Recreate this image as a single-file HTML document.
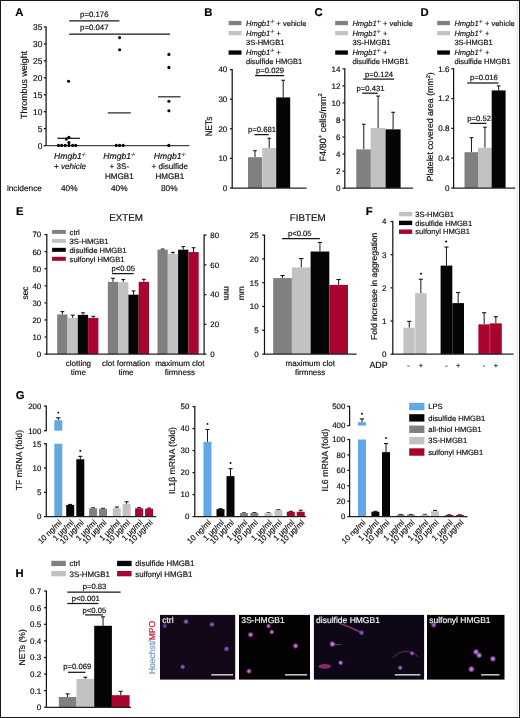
<!DOCTYPE html>
<html><head><meta charset="utf-8"><style>
html,body{margin:0;padding:0;background:#fff;}
body{width:520px;height:718px;overflow:hidden;}
svg{display:block;will-change:transform;}
text{font-family:"Liberation Sans", sans-serif;text-rendering:geometricPrecision;}
text[fill="#111"], text[fill="#000"]{stroke:#111;stroke-width:0.18px;}
text[fill="#f4f4f4"]{stroke:#f4f4f4;stroke-width:0.18px;}
</style></head><body>
<svg width="520" height="718" viewBox="0 0 520 718">
<defs><filter id="blur2" x="-50%" y="-50%" width="200%" height="200%"><feGaussianBlur stdDeviation="0.6"/></filter><filter id="blur" x="-50%" y="-50%" width="200%" height="200%"><feGaussianBlur stdDeviation="0.7"/></filter>
<radialGradient id="gD"><stop offset="0" stop-color="#a078c8"/><stop offset="0.55" stop-color="#7048a0" stop-opacity="0.8"/><stop offset="1" stop-color="#402060" stop-opacity="0"/></radialGradient>
<radialGradient id="gDB"><stop offset="0" stop-color="#6a58c0"/><stop offset="0.55" stop-color="#4a3a98" stop-opacity="0.8"/><stop offset="1" stop-color="#282060" stop-opacity="0"/></radialGradient>
<radialGradient id="gP"><stop offset="0" stop-color="#c27ad6"/><stop offset="0.55" stop-color="#9a44b0" stop-opacity="0.85"/><stop offset="1" stop-color="#5a2a80" stop-opacity="0"/></radialGradient>
<radialGradient id="gK"><stop offset="0" stop-color="#e090dc"/><stop offset="0.55" stop-color="#b44cb4" stop-opacity="0.85"/><stop offset="1" stop-color="#702a80" stop-opacity="0"/></radialGradient>
<radialGradient id="gB"><stop offset="0" stop-color="#8070e0"/><stop offset="0.55" stop-color="#5a48b8" stop-opacity="0.85"/><stop offset="1" stop-color="#302080" stop-opacity="0"/></radialGradient>
<radialGradient id="gL"><stop offset="0" stop-color="#d8a0ec"/><stop offset="0.55" stop-color="#b05ec8" stop-opacity="0.85"/><stop offset="1" stop-color="#603090" stop-opacity="0"/></radialGradient>
</defs>
<rect x="0" y="0" width="520" height="718" fill="#fff"/>
<rect x="513" y="0" width="5" height="718" fill="#f8f8f8"/>
<text x="15.30" y="15.60" font-size="11.3" text-anchor="start" fill="#000" font-weight="bold" font-style="normal" >A</text>
<line x1="46.10" y1="26.50" x2="46.10" y2="146.10" stroke="#161616" stroke-width="1.25"/>
<line x1="43.80" y1="145.60" x2="46.10" y2="145.60" stroke="#161616" stroke-width="1.25"/>
<text x="42.30" y="148.62" font-size="8.4" text-anchor="end" fill="#111" font-weight="normal" font-style="normal" >0</text>
<line x1="43.80" y1="128.66" x2="46.10" y2="128.66" stroke="#161616" stroke-width="1.25"/>
<text x="42.30" y="131.68" font-size="8.4" text-anchor="end" fill="#111" font-weight="normal" font-style="normal" >5</text>
<line x1="43.80" y1="111.71" x2="46.10" y2="111.71" stroke="#161616" stroke-width="1.25"/>
<text x="42.30" y="114.74" font-size="8.4" text-anchor="end" fill="#111" font-weight="normal" font-style="normal" >10</text>
<line x1="43.80" y1="94.77" x2="46.10" y2="94.77" stroke="#161616" stroke-width="1.25"/>
<text x="42.30" y="97.80" font-size="8.4" text-anchor="end" fill="#111" font-weight="normal" font-style="normal" >15</text>
<line x1="43.80" y1="77.83" x2="46.10" y2="77.83" stroke="#161616" stroke-width="1.25"/>
<text x="42.30" y="80.85" font-size="8.4" text-anchor="end" fill="#111" font-weight="normal" font-style="normal" >20</text>
<line x1="43.80" y1="60.89" x2="46.10" y2="60.89" stroke="#161616" stroke-width="1.25"/>
<text x="42.30" y="63.91" font-size="8.4" text-anchor="end" fill="#111" font-weight="normal" font-style="normal" >25</text>
<line x1="43.80" y1="43.94" x2="46.10" y2="43.94" stroke="#161616" stroke-width="1.25"/>
<text x="42.30" y="46.97" font-size="8.4" text-anchor="end" fill="#111" font-weight="normal" font-style="normal" >30</text>
<line x1="43.80" y1="27.00" x2="46.10" y2="27.00" stroke="#161616" stroke-width="1.25"/>
<text x="42.30" y="30.02" font-size="8.4" text-anchor="end" fill="#111" font-weight="normal" font-style="normal" >35</text>
<line x1="46.10" y1="145.60" x2="189.40" y2="145.60" stroke="#444" stroke-width="1.25"/>
<text transform="translate(23.40,85.00) rotate(-90)" x="0" y="3.20" font-size="8.9" text-anchor="middle" fill="#111">Thrombus weight</text>
<line x1="69.20" y1="20.90" x2="119.40" y2="20.90" stroke="#161616" stroke-width="1.25"/>
<text x="94.30" y="16.60" font-size="7.8" text-anchor="middle" fill="#111" font-weight="normal" font-style="normal" >p=0.176</text>
<line x1="69.20" y1="34.00" x2="170.10" y2="34.00" stroke="#161616" stroke-width="1.25"/>
<text x="94.30" y="29.80" font-size="7.8" text-anchor="middle" fill="#111" font-weight="normal" font-style="normal" >p=0.047</text>
<line x1="57.40" y1="138.30" x2="80.00" y2="138.30" stroke="#111" stroke-width="1.2"/>
<line x1="107.80" y1="112.90" x2="130.80" y2="112.90" stroke="#222" stroke-width="1.2"/>
<line x1="158.00" y1="96.80" x2="180.50" y2="96.80" stroke="#222" stroke-width="1.2"/>
<circle cx="68.60" cy="81.20" r="1.55" fill="#000"/>
<circle cx="68.90" cy="137.30" r="1.55" fill="#000"/>
<circle cx="66.30" cy="139.10" r="1.55" fill="#000"/>
<circle cx="68.90" cy="142.60" r="1.55" fill="#000"/>
<circle cx="58.50" cy="145.40" r="1.55" fill="#000"/>
<circle cx="61.70" cy="145.40" r="1.55" fill="#000"/>
<circle cx="65.20" cy="145.40" r="1.55" fill="#000"/>
<circle cx="68.90" cy="145.40" r="1.55" fill="#000"/>
<circle cx="72.60" cy="145.40" r="1.55" fill="#000"/>
<circle cx="75.70" cy="145.40" r="1.55" fill="#000"/>
<circle cx="119.60" cy="37.60" r="1.55" fill="#000"/>
<circle cx="119.60" cy="49.70" r="1.55" fill="#000"/>
<circle cx="116.30" cy="145.40" r="1.55" fill="#000"/>
<circle cx="119.60" cy="145.40" r="1.55" fill="#000"/>
<circle cx="123.10" cy="145.40" r="1.55" fill="#000"/>
<circle cx="168.90" cy="54.40" r="1.55" fill="#000"/>
<circle cx="168.90" cy="67.40" r="1.55" fill="#000"/>
<circle cx="168.90" cy="101.20" r="1.55" fill="#000"/>
<circle cx="168.90" cy="110.70" r="1.55" fill="#000"/>
<circle cx="168.80" cy="145.40" r="1.55" fill="#000"/>
<text x="70.00" y="158.8" font-size="8.6" fill="#111" text-anchor="middle"><tspan font-style="italic">Hmgb1</tspan><tspan font-size="4.4" dy="-3.3">-/-</tspan></text>
<text x="70.00" y="168.7" font-size="8.0" fill="#111" text-anchor="middle">+ <tspan font-style="italic">vehicle</tspan></text>
<text x="119.30" y="158.8" font-size="8.6" fill="#111" text-anchor="middle"><tspan font-style="italic">Hmgb1</tspan><tspan font-size="4.4" dy="-3.3">-/-</tspan></text>
<text x="119.30" y="168.70" font-size="8.1" text-anchor="middle" fill="#111" font-weight="normal" font-style="normal" >+ 3S-</text>
<text x="119.30" y="178.70" font-size="8.1" text-anchor="middle" fill="#111" font-weight="normal" font-style="normal" >HMGB1</text>
<text x="169.80" y="158.8" font-size="8.6" fill="#111" text-anchor="middle"><tspan font-style="italic">Hmgb1</tspan><tspan font-size="4.4" dy="-3.3">-/-</tspan></text>
<text x="169.80" y="168.70" font-size="8.1" text-anchor="middle" fill="#111" font-weight="normal" font-style="normal" >+ disulfide</text>
<text x="169.80" y="178.70" font-size="8.1" text-anchor="middle" fill="#111" font-weight="normal" font-style="normal" >HMGB1</text>
<text x="6.90" y="191.10" font-size="8.3" text-anchor="start" fill="#111" font-weight="normal" font-style="normal" >incidence</text>
<text x="69.30" y="191.10" font-size="8.3" text-anchor="middle" fill="#111" font-weight="normal" font-style="normal" >40%</text>
<text x="119.30" y="191.10" font-size="8.3" text-anchor="middle" fill="#111" font-weight="normal" font-style="normal" >40%</text>
<text x="169.30" y="191.10" font-size="8.3" text-anchor="middle" fill="#111" font-weight="normal" font-style="normal" >80%</text>
<text x="204.30" y="15.60" font-size="11.3" text-anchor="start" fill="#000" font-weight="bold" font-style="normal" >B</text>
<rect x="228.60" y="20.90" width="12.90" height="4.30" fill="#808080"/>
<text x="246.00" y="25.80" font-size="7.5" fill="#111"><tspan font-style="italic">Hmgb1</tspan><tspan font-size="4.50" dy="-3.00">-/-</tspan><tspan dy="3.00"> + vehicle</tspan></text>
<rect x="228.60" y="31.00" width="12.90" height="4.30" fill="#c2c2c2"/>
<text x="246.00" y="36.20" font-size="7.5" fill="#111"><tspan font-style="italic">Hmgb1</tspan><tspan font-size="4.50" dy="-3.00">-/-</tspan><tspan dy="3.00"> +</tspan></text>
<text x="246.00" y="45.40" font-size="7.5" text-anchor="start" fill="#111" font-weight="normal" font-style="normal" >3S-HMGB1</text>
<rect x="228.60" y="50.40" width="12.90" height="4.30" fill="#050505"/>
<text x="246.00" y="55.40" font-size="7.5" fill="#111"><tspan font-style="italic">Hmgb1</tspan><tspan font-size="4.50" dy="-3.00">-/-</tspan><tspan dy="3.00"> +</tspan></text>
<text x="246.00" y="63.60" font-size="7.5" text-anchor="start" fill="#111" font-weight="normal" font-style="normal" >disulfide HMGB1</text>
<line x1="255.00" y1="157.22" x2="255.00" y2="150.70" stroke="#161616" stroke-width="1"/>
<line x1="253.20" y1="150.70" x2="256.80" y2="150.70" stroke="#161616" stroke-width="1.1"/>
<rect x="248.00" y="157.22" width="14.00" height="30.78" fill="#808080"/>
<line x1="269.20" y1="147.89" x2="269.20" y2="138.27" stroke="#161616" stroke-width="1"/>
<line x1="267.40" y1="138.27" x2="271.00" y2="138.27" stroke="#161616" stroke-width="1.1"/>
<rect x="262.20" y="147.89" width="14.00" height="40.11" fill="#c2c2c2"/>
<line x1="283.20" y1="97.42" x2="283.20" y2="80.26" stroke="#161616" stroke-width="1"/>
<line x1="281.40" y1="80.26" x2="285.00" y2="80.26" stroke="#161616" stroke-width="1.1"/>
<rect x="276.20" y="97.42" width="14.00" height="90.58" fill="#050505"/>
<line x1="232.20" y1="69.10" x2="232.20" y2="188.50" stroke="#161616" stroke-width="1.25"/>
<line x1="229.90" y1="188.00" x2="232.20" y2="188.00" stroke="#161616" stroke-width="1.25"/>
<text x="227.30" y="190.88" font-size="8.0" text-anchor="end" fill="#111" font-weight="normal" font-style="normal" >0</text>
<line x1="229.90" y1="158.40" x2="232.20" y2="158.40" stroke="#161616" stroke-width="1.25"/>
<text x="227.30" y="161.28" font-size="8.0" text-anchor="end" fill="#111" font-weight="normal" font-style="normal" >10</text>
<line x1="229.90" y1="128.80" x2="232.20" y2="128.80" stroke="#161616" stroke-width="1.25"/>
<text x="227.30" y="131.68" font-size="8.0" text-anchor="end" fill="#111" font-weight="normal" font-style="normal" >20</text>
<line x1="229.90" y1="99.20" x2="232.20" y2="99.20" stroke="#161616" stroke-width="1.25"/>
<text x="227.30" y="102.08" font-size="8.0" text-anchor="end" fill="#111" font-weight="normal" font-style="normal" >30</text>
<line x1="229.90" y1="69.60" x2="232.20" y2="69.60" stroke="#161616" stroke-width="1.25"/>
<text x="227.30" y="72.48" font-size="8.0" text-anchor="end" fill="#111" font-weight="normal" font-style="normal" >40</text>
<line x1="232.20" y1="188.00" x2="306.50" y2="188.00" stroke="#222" stroke-width="1.25"/>
<text transform="translate(209.0,126.5) rotate(-90) scale(0.86,1)" x="0" y="3.4" font-size="9.6" text-anchor="middle" fill="#111">NETs</text>
<line x1="254.40" y1="134.60" x2="268.80" y2="134.60" stroke="#161616" stroke-width="1.25"/>
<text x="262.10" y="132.00" font-size="7.7" text-anchor="middle" fill="#111" font-weight="normal" font-style="normal" >p=0.681</text>
<line x1="255.00" y1="75.60" x2="284.10" y2="75.60" stroke="#161616" stroke-width="1.25"/>
<text x="270.10" y="72.70" font-size="7.7" text-anchor="middle" fill="#111" font-weight="normal" font-style="normal" >p=0.029</text>
<text x="314.50" y="15.60" font-size="11.3" text-anchor="start" fill="#000" font-weight="bold" font-style="normal" >C</text>
<rect x="335.20" y="20.90" width="12.70" height="4.30" fill="#808080"/>
<text x="352.40" y="25.80" font-size="7.5" fill="#111"><tspan font-style="italic">Hmgb1</tspan><tspan font-size="4.50" dy="-3.00">-/-</tspan><tspan dy="3.00"> + vehicle</tspan></text>
<rect x="335.20" y="31.00" width="12.70" height="4.30" fill="#c2c2c2"/>
<text x="352.40" y="36.20" font-size="7.5" fill="#111"><tspan font-style="italic">Hmgb1</tspan><tspan font-size="4.50" dy="-3.00">-/-</tspan><tspan dy="3.00"> +</tspan></text>
<text x="352.40" y="45.40" font-size="7.5" text-anchor="start" fill="#111" font-weight="normal" font-style="normal" >3S-HMGB1</text>
<rect x="335.20" y="50.40" width="12.70" height="4.30" fill="#050505"/>
<text x="352.40" y="55.40" font-size="7.5" fill="#111"><tspan font-style="italic">Hmgb1</tspan><tspan font-size="4.50" dy="-3.00">-/-</tspan><tspan dy="3.00"> +</tspan></text>
<text x="352.40" y="63.60" font-size="7.5" text-anchor="start" fill="#111" font-weight="normal" font-style="normal" >disulfide HMGB1</text>
<line x1="363.80" y1="149.39" x2="363.80" y2="124.24" stroke="#161616" stroke-width="1"/>
<line x1="362.00" y1="124.24" x2="365.60" y2="124.24" stroke="#161616" stroke-width="1.1"/>
<rect x="356.30" y="149.39" width="15.00" height="38.81" fill="#808080"/>
<line x1="378.10" y1="128.07" x2="378.10" y2="96.09" stroke="#161616" stroke-width="1"/>
<line x1="376.30" y1="96.09" x2="379.90" y2="96.09" stroke="#161616" stroke-width="1.1"/>
<rect x="370.60" y="128.07" width="15.00" height="60.13" fill="#c2c2c2"/>
<line x1="393.10" y1="129.35" x2="393.10" y2="112.30" stroke="#161616" stroke-width="1"/>
<line x1="391.30" y1="112.30" x2="394.90" y2="112.30" stroke="#161616" stroke-width="1.1"/>
<rect x="385.60" y="129.35" width="15.00" height="58.85" fill="#050505"/>
<line x1="344.80" y1="68.30" x2="344.80" y2="188.70" stroke="#161616" stroke-width="1.25"/>
<line x1="342.50" y1="188.20" x2="344.80" y2="188.20" stroke="#161616" stroke-width="1.25"/>
<text x="340.50" y="191.08" font-size="8.0" text-anchor="end" fill="#111" font-weight="normal" font-style="normal" >0</text>
<line x1="342.50" y1="171.14" x2="344.80" y2="171.14" stroke="#161616" stroke-width="1.25"/>
<text x="340.50" y="174.02" font-size="8.0" text-anchor="end" fill="#111" font-weight="normal" font-style="normal" >2</text>
<line x1="342.50" y1="154.09" x2="344.80" y2="154.09" stroke="#161616" stroke-width="1.25"/>
<text x="340.50" y="156.97" font-size="8.0" text-anchor="end" fill="#111" font-weight="normal" font-style="normal" >4</text>
<line x1="342.50" y1="137.03" x2="344.80" y2="137.03" stroke="#161616" stroke-width="1.25"/>
<text x="340.50" y="139.91" font-size="8.0" text-anchor="end" fill="#111" font-weight="normal" font-style="normal" >6</text>
<line x1="342.50" y1="119.97" x2="344.80" y2="119.97" stroke="#161616" stroke-width="1.25"/>
<text x="340.50" y="122.85" font-size="8.0" text-anchor="end" fill="#111" font-weight="normal" font-style="normal" >8</text>
<line x1="342.50" y1="102.91" x2="344.80" y2="102.91" stroke="#161616" stroke-width="1.25"/>
<text x="340.50" y="105.79" font-size="8.0" text-anchor="end" fill="#111" font-weight="normal" font-style="normal" >10</text>
<line x1="342.50" y1="85.86" x2="344.80" y2="85.86" stroke="#161616" stroke-width="1.25"/>
<text x="340.50" y="88.74" font-size="8.0" text-anchor="end" fill="#111" font-weight="normal" font-style="normal" >12</text>
<line x1="342.50" y1="68.80" x2="344.80" y2="68.80" stroke="#161616" stroke-width="1.25"/>
<text x="340.50" y="71.68" font-size="8.0" text-anchor="end" fill="#111" font-weight="normal" font-style="normal" >14</text>
<line x1="344.80" y1="188.20" x2="413.10" y2="188.20" stroke="#222" stroke-width="1.25"/>
<text transform="translate(322.2,127.3) rotate(-90)" x="0" y="3.3" font-size="9.1" text-anchor="middle" fill="#111">F4/80<tspan font-size="5.8" dy="-3.4">+</tspan><tspan dy="3.4"> cells/mm</tspan><tspan font-size="5.8" dy="-3.4">2</tspan></text>
<line x1="362.20" y1="93.20" x2="377.80" y2="93.20" stroke="#161616" stroke-width="1.25"/>
<text x="370.50" y="91.00" font-size="7.7" text-anchor="middle" fill="#111" font-weight="normal" font-style="normal" >p=0.431</text>
<line x1="363.20" y1="79.10" x2="394.00" y2="79.10" stroke="#161616" stroke-width="1.25"/>
<text x="379.00" y="76.70" font-size="7.7" text-anchor="middle" fill="#111" font-weight="normal" font-style="normal" >p=0.124</text>
<text x="420.60" y="15.60" font-size="11.3" text-anchor="start" fill="#000" font-weight="bold" font-style="normal" >D</text>
<rect x="437.20" y="20.90" width="12.70" height="4.30" fill="#808080"/>
<text x="454.40" y="25.80" font-size="7.5" fill="#111"><tspan font-style="italic">Hmgb1</tspan><tspan font-size="4.50" dy="-3.00">-/-</tspan><tspan dy="3.00"> + vehicle</tspan></text>
<rect x="437.20" y="31.00" width="12.70" height="4.30" fill="#c2c2c2"/>
<text x="454.40" y="36.20" font-size="7.5" fill="#111"><tspan font-style="italic">Hmgb1</tspan><tspan font-size="4.50" dy="-3.00">-/-</tspan><tspan dy="3.00"> +</tspan></text>
<text x="454.40" y="45.40" font-size="7.5" text-anchor="start" fill="#111" font-weight="normal" font-style="normal" >3S-HMGB1</text>
<rect x="437.20" y="50.40" width="12.70" height="4.30" fill="#050505"/>
<text x="454.40" y="55.40" font-size="7.5" fill="#111"><tspan font-style="italic">Hmgb1</tspan><tspan font-size="4.50" dy="-3.00">-/-</tspan><tspan dy="3.00"> +</tspan></text>
<text x="454.40" y="63.60" font-size="7.5" text-anchor="start" fill="#111" font-weight="normal" font-style="normal" >disulfide HMGB1</text>
<line x1="471.45" y1="152.17" x2="471.45" y2="137.64" stroke="#161616" stroke-width="1"/>
<line x1="469.65" y1="137.64" x2="473.25" y2="137.64" stroke="#161616" stroke-width="1.1"/>
<rect x="464.50" y="152.17" width="13.90" height="35.83" fill="#808080"/>
<line x1="484.95" y1="147.77" x2="484.95" y2="127.21" stroke="#161616" stroke-width="1"/>
<line x1="483.15" y1="127.21" x2="486.75" y2="127.21" stroke="#161616" stroke-width="1.1"/>
<rect x="478.00" y="147.77" width="13.90" height="40.23" fill="#c2c2c2"/>
<line x1="498.65" y1="90.41" x2="498.65" y2="85.93" stroke="#161616" stroke-width="1"/>
<line x1="496.85" y1="85.93" x2="500.45" y2="85.93" stroke="#161616" stroke-width="1.1"/>
<rect x="491.70" y="90.41" width="13.90" height="97.59" fill="#050505"/>
<line x1="453.60" y1="68.30" x2="453.60" y2="188.50" stroke="#161616" stroke-width="1.25"/>
<line x1="451.30" y1="188.00" x2="453.60" y2="188.00" stroke="#161616" stroke-width="1.25"/>
<text x="449.40" y="190.88" font-size="8.0" text-anchor="end" fill="#111" font-weight="normal" font-style="normal" >0</text>
<line x1="451.30" y1="158.20" x2="453.60" y2="158.20" stroke="#161616" stroke-width="1.25"/>
<text x="449.40" y="161.08" font-size="8.0" text-anchor="end" fill="#111" font-weight="normal" font-style="normal" >0.4</text>
<line x1="451.30" y1="128.40" x2="453.60" y2="128.40" stroke="#161616" stroke-width="1.25"/>
<text x="449.40" y="131.28" font-size="8.0" text-anchor="end" fill="#111" font-weight="normal" font-style="normal" >0.8</text>
<line x1="451.30" y1="98.60" x2="453.60" y2="98.60" stroke="#161616" stroke-width="1.25"/>
<text x="449.40" y="101.48" font-size="8.0" text-anchor="end" fill="#111" font-weight="normal" font-style="normal" >1.2</text>
<line x1="451.30" y1="68.80" x2="453.60" y2="68.80" stroke="#161616" stroke-width="1.25"/>
<text x="449.40" y="71.68" font-size="8.0" text-anchor="end" fill="#111" font-weight="normal" font-style="normal" >1.6</text>
<line x1="453.60" y1="188.00" x2="515.10" y2="188.00" stroke="#222" stroke-width="1.25"/>
<text transform="translate(429.6,126.8) rotate(-90)" x="0" y="3.2" font-size="8.8" text-anchor="middle" fill="#111">Platelet covered area (mm<tspan font-size="5.6" dy="-3.3">2</tspan><tspan dy="3.3">)</tspan></text>
<line x1="470.20" y1="123.40" x2="486.40" y2="123.40" stroke="#161616" stroke-width="1.25"/>
<text x="479.20" y="120.80" font-size="7.7" text-anchor="middle" fill="#111" font-weight="normal" font-style="normal" >p=0.52</text>
<line x1="467.30" y1="83.00" x2="498.50" y2="83.00" stroke="#161616" stroke-width="1.25"/>
<text x="483.90" y="80.40" font-size="7.7" text-anchor="middle" fill="#111" font-weight="normal" font-style="normal" >p=0.016</text>
<text x="16.00" y="215.40" font-size="11.3" text-anchor="start" fill="#000" font-weight="bold" font-style="normal" >E</text>
<text x="126.00" y="221.40" font-size="9.8" text-anchor="middle" fill="#111" font-weight="normal" font-style="normal" >EXTEM</text>
<rect x="52.10" y="229.90" width="13.70" height="4.00" fill="#808080"/>
<text x="69.60" y="234.60" font-size="7.6" text-anchor="start" fill="#111" font-weight="normal" font-style="normal" >ctrl</text>
<rect x="52.10" y="238.87" width="13.70" height="4.00" fill="#c2c2c2"/>
<text x="69.60" y="243.57" font-size="7.6" text-anchor="start" fill="#111" font-weight="normal" font-style="normal" >3S-HMGB1</text>
<rect x="52.10" y="247.84" width="13.70" height="4.00" fill="#050505"/>
<text x="69.60" y="252.54" font-size="7.6" text-anchor="start" fill="#111" font-weight="normal" font-style="normal" >disulfide HMGB1</text>
<rect x="52.10" y="256.81" width="13.70" height="4.00" fill="#a8042e"/>
<text x="69.60" y="261.51" font-size="7.6" text-anchor="start" fill="#111" font-weight="normal" font-style="normal" >sulfonyl HMGB1</text>
<line x1="62.35" y1="314.49" x2="62.35" y2="311.59" stroke="#161616" stroke-width="1"/>
<line x1="60.45" y1="311.59" x2="64.25" y2="311.59" stroke="#161616" stroke-width="1.1"/>
<rect x="57.20" y="314.49" width="10.30" height="39.61" fill="#808080"/>
<line x1="72.65" y1="317.91" x2="72.65" y2="315.18" stroke="#161616" stroke-width="1"/>
<line x1="70.75" y1="315.18" x2="74.55" y2="315.18" stroke="#161616" stroke-width="1.1"/>
<rect x="67.50" y="317.91" width="10.30" height="36.19" fill="#c2c2c2"/>
<line x1="82.95" y1="314.84" x2="82.95" y2="312.79" stroke="#161616" stroke-width="1"/>
<line x1="81.05" y1="312.79" x2="84.85" y2="312.79" stroke="#161616" stroke-width="1.1"/>
<rect x="77.80" y="314.84" width="10.30" height="39.26" fill="#050505"/>
<line x1="93.25" y1="317.91" x2="93.25" y2="316.37" stroke="#161616" stroke-width="1"/>
<line x1="91.35" y1="316.37" x2="95.15" y2="316.37" stroke="#161616" stroke-width="1.1"/>
<rect x="88.10" y="317.91" width="10.30" height="36.19" fill="#a8042e"/>
<line x1="112.95" y1="281.89" x2="112.95" y2="278.30" stroke="#161616" stroke-width="1"/>
<line x1="111.05" y1="278.30" x2="114.85" y2="278.30" stroke="#161616" stroke-width="1.1"/>
<rect x="107.80" y="281.89" width="10.30" height="72.21" fill="#808080"/>
<line x1="123.25" y1="282.23" x2="123.25" y2="279.50" stroke="#161616" stroke-width="1"/>
<line x1="121.35" y1="279.50" x2="125.15" y2="279.50" stroke="#161616" stroke-width="1.1"/>
<rect x="118.10" y="282.23" width="10.30" height="71.87" fill="#c2c2c2"/>
<line x1="133.55" y1="294.69" x2="133.55" y2="290.94" stroke="#161616" stroke-width="1"/>
<line x1="131.65" y1="290.94" x2="135.45" y2="290.94" stroke="#161616" stroke-width="1.1"/>
<rect x="128.40" y="294.69" width="10.30" height="59.41" fill="#050505"/>
<line x1="143.85" y1="281.89" x2="143.85" y2="279.33" stroke="#161616" stroke-width="1"/>
<line x1="141.95" y1="279.33" x2="145.75" y2="279.33" stroke="#161616" stroke-width="1.1"/>
<rect x="138.70" y="281.89" width="10.30" height="72.21" fill="#a8042e"/>
<line x1="162.65" y1="249.68" x2="162.65" y2="249.08" stroke="#161616" stroke-width="1"/>
<line x1="160.75" y1="249.08" x2="164.55" y2="249.08" stroke="#161616" stroke-width="1.1"/>
<rect x="157.50" y="249.68" width="10.30" height="104.42" fill="#808080"/>
<line x1="172.95" y1="253.99" x2="172.95" y2="252.35" stroke="#161616" stroke-width="1"/>
<line x1="171.05" y1="252.35" x2="174.85" y2="252.35" stroke="#161616" stroke-width="1.1"/>
<rect x="167.80" y="253.99" width="10.30" height="100.11" fill="#c2c2c2"/>
<line x1="183.25" y1="249.68" x2="183.25" y2="246.55" stroke="#161616" stroke-width="1"/>
<line x1="181.35" y1="246.55" x2="185.15" y2="246.55" stroke="#161616" stroke-width="1.1"/>
<rect x="178.10" y="249.68" width="10.30" height="104.42" fill="#050505"/>
<line x1="193.55" y1="252.06" x2="193.55" y2="247.74" stroke="#161616" stroke-width="1"/>
<line x1="191.65" y1="247.74" x2="195.45" y2="247.74" stroke="#161616" stroke-width="1.1"/>
<rect x="188.40" y="252.06" width="10.30" height="102.04" fill="#a8042e"/>
<line x1="46.80" y1="234.10" x2="46.80" y2="354.60" stroke="#161616" stroke-width="1.25"/>
<line x1="44.50" y1="354.10" x2="46.80" y2="354.10" stroke="#161616" stroke-width="1.25"/>
<text x="41.20" y="356.94" font-size="7.9" text-anchor="end" fill="#111" font-weight="normal" font-style="normal" >0</text>
<line x1="44.50" y1="337.03" x2="46.80" y2="337.03" stroke="#161616" stroke-width="1.25"/>
<text x="41.20" y="339.87" font-size="7.9" text-anchor="end" fill="#111" font-weight="normal" font-style="normal" >10</text>
<line x1="44.50" y1="319.96" x2="46.80" y2="319.96" stroke="#161616" stroke-width="1.25"/>
<text x="41.20" y="322.80" font-size="7.9" text-anchor="end" fill="#111" font-weight="normal" font-style="normal" >20</text>
<line x1="44.50" y1="302.89" x2="46.80" y2="302.89" stroke="#161616" stroke-width="1.25"/>
<text x="41.20" y="305.73" font-size="7.9" text-anchor="end" fill="#111" font-weight="normal" font-style="normal" >30</text>
<line x1="44.50" y1="285.81" x2="46.80" y2="285.81" stroke="#161616" stroke-width="1.25"/>
<text x="41.20" y="288.66" font-size="7.9" text-anchor="end" fill="#111" font-weight="normal" font-style="normal" >40</text>
<line x1="44.50" y1="268.74" x2="46.80" y2="268.74" stroke="#161616" stroke-width="1.25"/>
<text x="41.20" y="271.59" font-size="7.9" text-anchor="end" fill="#111" font-weight="normal" font-style="normal" >50</text>
<line x1="44.50" y1="251.67" x2="46.80" y2="251.67" stroke="#161616" stroke-width="1.25"/>
<text x="41.20" y="254.52" font-size="7.9" text-anchor="end" fill="#111" font-weight="normal" font-style="normal" >60</text>
<line x1="44.50" y1="234.60" x2="46.80" y2="234.60" stroke="#161616" stroke-width="1.25"/>
<text x="41.20" y="237.44" font-size="7.9" text-anchor="end" fill="#111" font-weight="normal" font-style="normal" >70</text>
<line x1="204.10" y1="234.60" x2="204.10" y2="354.60" stroke="#161616" stroke-width="1.25"/>
<line x1="204.10" y1="354.10" x2="206.40" y2="354.10" stroke="#161616" stroke-width="1.25"/>
<text x="210.30" y="356.94" font-size="7.9" text-anchor="start" fill="#111" font-weight="normal" font-style="normal" >0</text>
<line x1="204.10" y1="324.35" x2="206.40" y2="324.35" stroke="#161616" stroke-width="1.25"/>
<text x="210.30" y="327.19" font-size="7.9" text-anchor="start" fill="#111" font-weight="normal" font-style="normal" >20</text>
<line x1="204.10" y1="294.60" x2="206.40" y2="294.60" stroke="#161616" stroke-width="1.25"/>
<text x="210.30" y="297.44" font-size="7.9" text-anchor="start" fill="#111" font-weight="normal" font-style="normal" >40</text>
<line x1="204.10" y1="264.85" x2="206.40" y2="264.85" stroke="#161616" stroke-width="1.25"/>
<text x="210.30" y="267.69" font-size="7.9" text-anchor="start" fill="#111" font-weight="normal" font-style="normal" >60</text>
<line x1="204.10" y1="235.10" x2="206.40" y2="235.10" stroke="#161616" stroke-width="1.25"/>
<text x="210.30" y="237.94" font-size="7.9" text-anchor="start" fill="#111" font-weight="normal" font-style="normal" >80</text>
<line x1="46.80" y1="354.10" x2="204.10" y2="354.10" stroke="#222" stroke-width="1.25"/>
<text transform="translate(25.30,293.00) rotate(-90)" x="0" y="3.06" font-size="8.5" text-anchor="middle" fill="#111">sec</text>
<text transform="translate(227.00,293.20) rotate(90)" x="0" y="3.02" font-size="8.4" text-anchor="middle" fill="#111">mm</text>
<line x1="112.10" y1="273.60" x2="133.70" y2="273.60" stroke="#161616" stroke-width="1.25"/>
<text x="123.20" y="271.00" font-size="7.6" text-anchor="middle" fill="#111" font-weight="normal" font-style="normal" >p&lt;0.05</text>
<text x="78.40" y="366.20" font-size="8.0" text-anchor="middle" fill="#111" font-weight="normal" font-style="normal" >clotting</text>
<text x="78.40" y="375.20" font-size="8.0" text-anchor="middle" fill="#111" font-weight="normal" font-style="normal" >time</text>
<text x="126.00" y="366.20" font-size="8.0" text-anchor="middle" fill="#111" font-weight="normal" font-style="normal" >clot formation</text>
<text x="126.00" y="375.20" font-size="8.0" text-anchor="middle" fill="#111" font-weight="normal" font-style="normal" >time</text>
<text x="179.80" y="366.20" font-size="8.0" text-anchor="middle" fill="#111" font-weight="normal" font-style="normal" >maximum clot</text>
<text x="179.80" y="375.20" font-size="8.0" text-anchor="middle" fill="#111" font-weight="normal" font-style="normal" >firmness</text>
<text x="307.70" y="221.40" font-size="9.8" text-anchor="middle" fill="#111" font-weight="normal" font-style="normal" >FIBTEM</text>
<line x1="282.55" y1="278.08" x2="282.55" y2="275.56" stroke="#161616" stroke-width="1"/>
<line x1="280.35" y1="275.56" x2="284.75" y2="275.56" stroke="#161616" stroke-width="1.1"/>
<rect x="273.20" y="278.08" width="18.70" height="76.02" fill="#808080"/>
<line x1="301.25" y1="267.47" x2="301.25" y2="258.57" stroke="#161616" stroke-width="1"/>
<line x1="299.05" y1="258.57" x2="303.45" y2="258.57" stroke="#161616" stroke-width="1.1"/>
<rect x="291.90" y="267.47" width="18.70" height="86.63" fill="#c2c2c2"/>
<line x1="319.95" y1="251.52" x2="319.95" y2="242.48" stroke="#161616" stroke-width="1"/>
<line x1="317.75" y1="242.48" x2="322.15" y2="242.48" stroke="#161616" stroke-width="1.1"/>
<rect x="310.60" y="251.52" width="18.70" height="102.58" fill="#050505"/>
<line x1="338.65" y1="284.89" x2="338.65" y2="279.51" stroke="#161616" stroke-width="1"/>
<line x1="336.45" y1="279.51" x2="340.85" y2="279.51" stroke="#161616" stroke-width="1.1"/>
<rect x="329.30" y="284.89" width="18.70" height="69.21" fill="#a8042e"/>
<line x1="264.50" y1="234.60" x2="264.50" y2="354.60" stroke="#161616" stroke-width="1.25"/>
<line x1="262.20" y1="354.10" x2="264.50" y2="354.10" stroke="#161616" stroke-width="1.25"/>
<text x="258.60" y="356.94" font-size="7.9" text-anchor="end" fill="#111" font-weight="normal" font-style="normal" >0</text>
<line x1="262.20" y1="330.30" x2="264.50" y2="330.30" stroke="#161616" stroke-width="1.25"/>
<text x="258.60" y="333.14" font-size="7.9" text-anchor="end" fill="#111" font-weight="normal" font-style="normal" >5</text>
<line x1="262.20" y1="306.50" x2="264.50" y2="306.50" stroke="#161616" stroke-width="1.25"/>
<text x="258.60" y="309.34" font-size="7.9" text-anchor="end" fill="#111" font-weight="normal" font-style="normal" >10</text>
<line x1="262.20" y1="282.70" x2="264.50" y2="282.70" stroke="#161616" stroke-width="1.25"/>
<text x="258.60" y="285.54" font-size="7.9" text-anchor="end" fill="#111" font-weight="normal" font-style="normal" >15</text>
<line x1="262.20" y1="258.90" x2="264.50" y2="258.90" stroke="#161616" stroke-width="1.25"/>
<text x="258.60" y="261.74" font-size="7.9" text-anchor="end" fill="#111" font-weight="normal" font-style="normal" >20</text>
<line x1="262.20" y1="235.10" x2="264.50" y2="235.10" stroke="#161616" stroke-width="1.25"/>
<text x="258.60" y="237.94" font-size="7.9" text-anchor="end" fill="#111" font-weight="normal" font-style="normal" >25</text>
<line x1="264.50" y1="354.10" x2="356.60" y2="354.10" stroke="#222" stroke-width="1.25"/>
<text transform="translate(240.80,293.20) rotate(-90)" x="0" y="3.02" font-size="8.4" text-anchor="middle" fill="#111">mm</text>
<line x1="282.10" y1="238.70" x2="319.90" y2="238.70" stroke="#161616" stroke-width="1.25"/>
<text x="299.80" y="235.80" font-size="7.6" text-anchor="middle" fill="#111" font-weight="normal" font-style="normal" >p&lt;0.05</text>
<text x="310.20" y="366.20" font-size="8.0" text-anchor="middle" fill="#111" font-weight="normal" font-style="normal" >maximum clot</text>
<text x="310.20" y="375.20" font-size="8.0" text-anchor="middle" fill="#111" font-weight="normal" font-style="normal" >firmness</text>
<text x="365.80" y="215.40" font-size="11.3" text-anchor="start" fill="#000" font-weight="bold" font-style="normal" >F</text>
<rect x="399.00" y="211.90" width="13.20" height="4.40" fill="#c2c2c2"/>
<text x="415.20" y="216.80" font-size="7.6" text-anchor="start" fill="#111" font-weight="normal" font-style="normal" >3S-HMGB1</text>
<rect x="399.00" y="220.70" width="13.20" height="4.40" fill="#050505"/>
<text x="415.20" y="225.60" font-size="7.6" text-anchor="start" fill="#111" font-weight="normal" font-style="normal" >disulfide HMGB1</text>
<rect x="399.00" y="229.50" width="13.20" height="4.40" fill="#a8042e"/>
<text x="415.20" y="234.40" font-size="7.6" text-anchor="start" fill="#111" font-weight="normal" font-style="normal" >sulfonyl HMGB1</text>
<line x1="409.25" y1="327.66" x2="409.25" y2="321.36" stroke="#161616" stroke-width="1"/>
<line x1="407.15" y1="321.36" x2="411.35" y2="321.36" stroke="#161616" stroke-width="1.1"/>
<rect x="403.40" y="327.66" width="11.70" height="26.54" fill="#c2c2c2"/>
<line x1="420.85" y1="293.16" x2="420.85" y2="279.22" stroke="#161616" stroke-width="1"/>
<line x1="418.75" y1="279.22" x2="422.95" y2="279.22" stroke="#161616" stroke-width="1.1"/>
<rect x="415.10" y="293.16" width="11.50" height="61.04" fill="#c2c2c2"/>
<line x1="446.45" y1="265.62" x2="446.45" y2="247.04" stroke="#161616" stroke-width="1"/>
<line x1="444.35" y1="247.04" x2="448.55" y2="247.04" stroke="#161616" stroke-width="1.1"/>
<rect x="440.60" y="265.62" width="11.70" height="88.58" fill="#050505"/>
<line x1="458.15" y1="303.11" x2="458.15" y2="292.49" stroke="#161616" stroke-width="1"/>
<line x1="456.05" y1="292.49" x2="460.25" y2="292.49" stroke="#161616" stroke-width="1.1"/>
<rect x="452.30" y="303.11" width="11.70" height="51.09" fill="#050505"/>
<line x1="484.15" y1="324.34" x2="484.15" y2="312.73" stroke="#161616" stroke-width="1"/>
<line x1="482.05" y1="312.73" x2="486.25" y2="312.73" stroke="#161616" stroke-width="1.1"/>
<rect x="478.40" y="324.34" width="11.50" height="29.86" fill="#a8042e"/>
<line x1="495.85" y1="323.35" x2="495.85" y2="316.71" stroke="#161616" stroke-width="1"/>
<line x1="493.75" y1="316.71" x2="497.95" y2="316.71" stroke="#161616" stroke-width="1.1"/>
<rect x="489.90" y="323.35" width="11.90" height="30.85" fill="#a8042e"/>
<line x1="415.10" y1="327.66" x2="415.10" y2="354.20" stroke="#e8e8e8" stroke-width="0.8"/>
<line x1="489.90" y1="324.34" x2="489.90" y2="354.20" stroke="#c8405e" stroke-width="1.0"/>
<line x1="392.80" y1="221.00" x2="392.80" y2="354.70" stroke="#161616" stroke-width="1.25"/>
<line x1="390.50" y1="354.20" x2="392.80" y2="354.20" stroke="#161616" stroke-width="1.25"/>
<text x="386.40" y="357.08" font-size="8.0" text-anchor="end" fill="#111" font-weight="normal" font-style="normal" >0</text>
<line x1="390.50" y1="321.02" x2="392.80" y2="321.02" stroke="#161616" stroke-width="1.25"/>
<text x="386.40" y="323.90" font-size="8.0" text-anchor="end" fill="#111" font-weight="normal" font-style="normal" >1</text>
<line x1="390.50" y1="287.85" x2="392.80" y2="287.85" stroke="#161616" stroke-width="1.25"/>
<text x="386.40" y="290.73" font-size="8.0" text-anchor="end" fill="#111" font-weight="normal" font-style="normal" >2</text>
<line x1="390.50" y1="254.68" x2="392.80" y2="254.68" stroke="#161616" stroke-width="1.25"/>
<text x="386.40" y="257.56" font-size="8.0" text-anchor="end" fill="#111" font-weight="normal" font-style="normal" >3</text>
<line x1="390.50" y1="221.50" x2="392.80" y2="221.50" stroke="#161616" stroke-width="1.25"/>
<text x="386.40" y="224.38" font-size="8.0" text-anchor="end" fill="#111" font-weight="normal" font-style="normal" >4</text>
<line x1="392.80" y1="354.20" x2="513.50" y2="354.20" stroke="#222" stroke-width="1.25"/>
<text transform="translate(373.80,286.30) rotate(-90)" x="0" y="3.06" font-size="8.5" text-anchor="middle" fill="#111">Fold increase in aggregation</text>
<circle cx="421.00" cy="273.70" r="1.0" fill="#000"/>
<circle cx="446.20" cy="241.50" r="1.0" fill="#000"/>
<text x="369.40" y="368.30" font-size="8.9" text-anchor="start" fill="#111" font-weight="normal" font-style="normal" >ADP</text>
<text x="408.60" y="368.00" font-size="7.4" text-anchor="middle" fill="#111" font-weight="normal" font-style="normal" >-</text>
<text x="421.00" y="368.00" font-size="7.4" text-anchor="middle" fill="#111" font-weight="normal" font-style="normal" >+</text>
<text x="446.40" y="368.00" font-size="7.4" text-anchor="middle" fill="#111" font-weight="normal" font-style="normal" >-</text>
<text x="458.20" y="368.00" font-size="7.4" text-anchor="middle" fill="#111" font-weight="normal" font-style="normal" >+</text>
<text x="484.00" y="368.00" font-size="7.4" text-anchor="middle" fill="#111" font-weight="normal" font-style="normal" >-</text>
<text x="495.80" y="368.00" font-size="7.4" text-anchor="middle" fill="#111" font-weight="normal" font-style="normal" >+</text>
<text x="15.80" y="399.00" font-size="11.3" text-anchor="start" fill="#000" font-weight="bold" font-style="normal" >G</text>
<line x1="58.30" y1="420.20" x2="58.30" y2="417.81" stroke="#161616" stroke-width="1"/>
<line x1="56.10" y1="417.81" x2="60.50" y2="417.81" stroke="#161616" stroke-width="1.1"/>
<rect x="54.30" y="420.20" width="8.00" height="10.50" fill="#62a8e4"/>
<rect x="54.30" y="443.70" width="8.00" height="72.90" fill="#62a8e4"/>
<circle cx="58.30" cy="412.61" r="0.95" fill="#000"/>
<line x1="70.20" y1="504.98" x2="70.20" y2="504.45" stroke="#161616" stroke-width="1"/>
<line x1="68.20" y1="504.45" x2="72.20" y2="504.45" stroke="#161616" stroke-width="1.1"/>
<rect x="66.20" y="504.98" width="8.00" height="11.62" fill="#050505"/>
<line x1="80.30" y1="459.25" x2="80.30" y2="456.34" stroke="#161616" stroke-width="1"/>
<line x1="78.30" y1="456.34" x2="82.30" y2="456.34" stroke="#161616" stroke-width="1.1"/>
<rect x="76.30" y="459.25" width="8.00" height="57.35" fill="#050505"/>
<circle cx="80.30" cy="450.74" r="0.95" fill="#000"/>
<line x1="93.10" y1="508.29" x2="93.10" y2="507.85" stroke="#161616" stroke-width="1"/>
<line x1="91.10" y1="507.85" x2="95.10" y2="507.85" stroke="#161616" stroke-width="1.1"/>
<rect x="89.10" y="508.29" width="8.00" height="8.31" fill="#808080"/>
<line x1="103.00" y1="508.78" x2="103.00" y2="508.34" stroke="#161616" stroke-width="1"/>
<line x1="101.00" y1="508.34" x2="105.00" y2="508.34" stroke="#161616" stroke-width="1.1"/>
<rect x="99.00" y="508.78" width="8.00" height="7.82" fill="#808080"/>
<line x1="116.80" y1="508.29" x2="116.80" y2="507.03" stroke="#161616" stroke-width="1"/>
<line x1="114.80" y1="507.03" x2="118.80" y2="507.03" stroke="#161616" stroke-width="1.1"/>
<rect x="112.80" y="508.29" width="8.00" height="8.31" fill="#c2c2c2"/>
<line x1="126.60" y1="503.77" x2="126.60" y2="501.83" stroke="#161616" stroke-width="1"/>
<line x1="124.60" y1="501.83" x2="128.60" y2="501.83" stroke="#161616" stroke-width="1.1"/>
<rect x="122.60" y="503.77" width="8.00" height="12.83" fill="#c2c2c2"/>
<line x1="139.10" y1="508.29" x2="139.10" y2="507.61" stroke="#161616" stroke-width="1"/>
<line x1="137.10" y1="507.61" x2="141.10" y2="507.61" stroke="#161616" stroke-width="1.1"/>
<rect x="135.10" y="508.29" width="8.00" height="8.31" fill="#a8042e"/>
<line x1="149.10" y1="508.68" x2="149.10" y2="508.10" stroke="#161616" stroke-width="1"/>
<line x1="147.10" y1="508.10" x2="151.10" y2="508.10" stroke="#161616" stroke-width="1.1"/>
<rect x="145.10" y="508.68" width="8.00" height="7.92" fill="#a8042e"/>
<line x1="46.30" y1="443.20" x2="46.30" y2="517.10" stroke="#161616" stroke-width="1.25"/>
<line x1="44.00" y1="516.60" x2="46.30" y2="516.60" stroke="#161616" stroke-width="1.25"/>
<text x="41.40" y="519.45" font-size="7.9" text-anchor="end" fill="#111" font-weight="normal" font-style="normal" >0</text>
<line x1="44.00" y1="492.30" x2="46.30" y2="492.30" stroke="#161616" stroke-width="1.25"/>
<text x="41.40" y="495.15" font-size="7.9" text-anchor="end" fill="#111" font-weight="normal" font-style="normal" >5</text>
<line x1="44.00" y1="468.00" x2="46.30" y2="468.00" stroke="#161616" stroke-width="1.25"/>
<text x="41.40" y="470.85" font-size="7.9" text-anchor="end" fill="#111" font-weight="normal" font-style="normal" >10</text>
<line x1="44.00" y1="443.70" x2="46.30" y2="443.70" stroke="#161616" stroke-width="1.25"/>
<text x="41.40" y="446.55" font-size="7.9" text-anchor="end" fill="#111" font-weight="normal" font-style="normal" >15</text>
<line x1="46.30" y1="405.60" x2="46.30" y2="431.20" stroke="#161616" stroke-width="1.25"/>
<line x1="44.00" y1="430.70" x2="46.30" y2="430.70" stroke="#161616" stroke-width="1.25"/>
<text x="41.40" y="433.55" font-size="7.9" text-anchor="end" fill="#111" font-weight="normal" font-style="normal" >100</text>
<line x1="44.00" y1="406.10" x2="46.30" y2="406.10" stroke="#161616" stroke-width="1.25"/>
<text x="41.40" y="408.95" font-size="7.9" text-anchor="end" fill="#111" font-weight="normal" font-style="normal" >200</text>
<line x1="46.30" y1="516.60" x2="156.20" y2="516.60" stroke="#222" stroke-width="1.25"/>
<text transform="translate(18.90,460.10) rotate(-90)" x="0" y="3.13" font-size="8.7" text-anchor="middle" fill="#111">TF mRNA (fold)</text>
<line x1="207.50" y1="441.80" x2="207.50" y2="429.48" stroke="#161616" stroke-width="1"/>
<line x1="205.50" y1="429.48" x2="209.50" y2="429.48" stroke="#161616" stroke-width="1.1"/>
<rect x="203.50" y="441.80" width="8.00" height="74.80" fill="#62a8e4"/>
<circle cx="207.50" cy="423.88" r="0.95" fill="#000"/>
<line x1="220.50" y1="509.12" x2="220.50" y2="508.68" stroke="#161616" stroke-width="1"/>
<line x1="218.50" y1="508.68" x2="222.50" y2="508.68" stroke="#161616" stroke-width="1.1"/>
<rect x="216.50" y="509.12" width="8.00" height="7.48" fill="#050505"/>
<line x1="230.50" y1="476.12" x2="230.50" y2="468.64" stroke="#161616" stroke-width="1"/>
<line x1="228.50" y1="468.64" x2="232.50" y2="468.64" stroke="#161616" stroke-width="1.1"/>
<rect x="226.50" y="476.12" width="8.00" height="40.48" fill="#050505"/>
<circle cx="230.50" cy="463.04" r="0.95" fill="#000"/>
<line x1="244.00" y1="513.08" x2="244.00" y2="512.86" stroke="#161616" stroke-width="1"/>
<line x1="242.00" y1="512.86" x2="246.00" y2="512.86" stroke="#161616" stroke-width="1.1"/>
<rect x="240.00" y="513.08" width="8.00" height="3.52" fill="#808080"/>
<line x1="254.40" y1="512.86" x2="254.40" y2="512.64" stroke="#161616" stroke-width="1"/>
<line x1="252.40" y1="512.64" x2="256.40" y2="512.64" stroke="#161616" stroke-width="1.1"/>
<rect x="250.40" y="512.86" width="8.00" height="3.74" fill="#808080"/>
<line x1="268.50" y1="513.08" x2="268.50" y2="512.86" stroke="#161616" stroke-width="1"/>
<line x1="266.50" y1="512.86" x2="270.50" y2="512.86" stroke="#161616" stroke-width="1.1"/>
<rect x="264.50" y="513.08" width="8.00" height="3.52" fill="#c2c2c2"/>
<line x1="278.40" y1="510.22" x2="278.40" y2="509.78" stroke="#161616" stroke-width="1"/>
<line x1="276.40" y1="509.78" x2="280.40" y2="509.78" stroke="#161616" stroke-width="1.1"/>
<rect x="274.40" y="510.22" width="8.00" height="6.38" fill="#c2c2c2"/>
<line x1="290.80" y1="511.76" x2="290.80" y2="511.32" stroke="#161616" stroke-width="1"/>
<line x1="288.80" y1="511.32" x2="292.80" y2="511.32" stroke="#161616" stroke-width="1.1"/>
<rect x="286.80" y="511.76" width="8.00" height="4.84" fill="#a8042e"/>
<line x1="300.70" y1="511.76" x2="300.70" y2="510.22" stroke="#161616" stroke-width="1"/>
<line x1="298.70" y1="510.22" x2="302.70" y2="510.22" stroke="#161616" stroke-width="1.1"/>
<rect x="296.70" y="511.76" width="8.00" height="4.84" fill="#a8042e"/>
<line x1="194.80" y1="406.10" x2="194.80" y2="517.10" stroke="#161616" stroke-width="1.25"/>
<line x1="192.50" y1="516.60" x2="194.80" y2="516.60" stroke="#161616" stroke-width="1.25"/>
<text x="189.30" y="519.45" font-size="7.9" text-anchor="end" fill="#111" font-weight="normal" font-style="normal" >0</text>
<line x1="192.50" y1="494.60" x2="194.80" y2="494.60" stroke="#161616" stroke-width="1.25"/>
<text x="189.30" y="497.45" font-size="7.9" text-anchor="end" fill="#111" font-weight="normal" font-style="normal" >10</text>
<line x1="192.50" y1="472.60" x2="194.80" y2="472.60" stroke="#161616" stroke-width="1.25"/>
<text x="189.30" y="475.45" font-size="7.9" text-anchor="end" fill="#111" font-weight="normal" font-style="normal" >20</text>
<line x1="192.50" y1="450.60" x2="194.80" y2="450.60" stroke="#161616" stroke-width="1.25"/>
<text x="189.30" y="453.45" font-size="7.9" text-anchor="end" fill="#111" font-weight="normal" font-style="normal" >30</text>
<line x1="192.50" y1="428.60" x2="194.80" y2="428.60" stroke="#161616" stroke-width="1.25"/>
<text x="189.30" y="431.45" font-size="7.9" text-anchor="end" fill="#111" font-weight="normal" font-style="normal" >40</text>
<line x1="192.50" y1="406.60" x2="194.80" y2="406.60" stroke="#161616" stroke-width="1.25"/>
<text x="189.30" y="409.45" font-size="7.9" text-anchor="end" fill="#111" font-weight="normal" font-style="normal" >50</text>
<line x1="194.80" y1="516.60" x2="306.00" y2="516.60" stroke="#222" stroke-width="1.25"/>
<text transform="translate(172.0,460.5) rotate(-90)" x="0" y="3.15" font-size="8.7" text-anchor="middle" fill="#111">IL1&#946; mRNA (fold)</text>
<line x1="362.00" y1="422.20" x2="362.00" y2="418.90" stroke="#161616" stroke-width="1"/>
<line x1="359.80" y1="418.90" x2="364.20" y2="418.90" stroke="#161616" stroke-width="1.1"/>
<rect x="358.00" y="422.20" width="8.00" height="3.40" fill="#62a8e4"/>
<rect x="358.00" y="439.50" width="8.00" height="77.10" fill="#62a8e4"/>
<circle cx="362.00" cy="413.70" r="0.95" fill="#000"/>
<line x1="375.40" y1="511.74" x2="375.40" y2="511.36" stroke="#161616" stroke-width="1"/>
<line x1="373.40" y1="511.36" x2="377.40" y2="511.36" stroke="#161616" stroke-width="1.1"/>
<rect x="371.40" y="511.74" width="8.00" height="4.86" fill="#050505"/>
<line x1="386.00" y1="452.14" x2="386.00" y2="443.51" stroke="#161616" stroke-width="1"/>
<line x1="384.00" y1="443.51" x2="388.00" y2="443.51" stroke="#161616" stroke-width="1.1"/>
<rect x="382.00" y="452.14" width="8.00" height="64.46" fill="#050505"/>
<circle cx="386.00" cy="437.91" r="0.95" fill="#000"/>
<line x1="400.80" y1="514.67" x2="400.80" y2="514.44" stroke="#161616" stroke-width="1"/>
<line x1="398.80" y1="514.44" x2="402.80" y2="514.44" stroke="#161616" stroke-width="1.1"/>
<rect x="396.80" y="514.67" width="8.00" height="1.93" fill="#808080"/>
<line x1="410.90" y1="514.67" x2="410.90" y2="514.44" stroke="#161616" stroke-width="1"/>
<line x1="408.90" y1="514.44" x2="412.90" y2="514.44" stroke="#161616" stroke-width="1.1"/>
<rect x="406.90" y="514.67" width="8.00" height="1.93" fill="#808080"/>
<line x1="425.00" y1="514.67" x2="425.00" y2="514.44" stroke="#161616" stroke-width="1"/>
<line x1="423.00" y1="514.44" x2="427.00" y2="514.44" stroke="#161616" stroke-width="1.1"/>
<rect x="421.00" y="514.67" width="8.00" height="1.93" fill="#c2c2c2"/>
<line x1="435.10" y1="511.20" x2="435.10" y2="510.43" stroke="#161616" stroke-width="1"/>
<line x1="433.10" y1="510.43" x2="437.10" y2="510.43" stroke="#161616" stroke-width="1.1"/>
<rect x="431.10" y="511.20" width="8.00" height="5.40" fill="#c2c2c2"/>
<line x1="449.30" y1="515.06" x2="449.30" y2="514.83" stroke="#161616" stroke-width="1"/>
<line x1="447.30" y1="514.83" x2="451.30" y2="514.83" stroke="#161616" stroke-width="1.1"/>
<rect x="445.30" y="515.06" width="8.00" height="1.54" fill="#a8042e"/>
<line x1="459.90" y1="515.06" x2="459.90" y2="514.83" stroke="#161616" stroke-width="1"/>
<line x1="457.90" y1="514.83" x2="461.90" y2="514.83" stroke="#161616" stroke-width="1.1"/>
<rect x="455.90" y="515.06" width="8.00" height="1.54" fill="#a8042e"/>
<line x1="349.60" y1="439.00" x2="349.60" y2="517.10" stroke="#161616" stroke-width="1.25"/>
<line x1="347.30" y1="516.60" x2="349.60" y2="516.60" stroke="#161616" stroke-width="1.25"/>
<text x="345.30" y="519.45" font-size="7.9" text-anchor="end" fill="#111" font-weight="normal" font-style="normal" >0</text>
<line x1="347.30" y1="501.18" x2="349.60" y2="501.18" stroke="#161616" stroke-width="1.25"/>
<text x="345.30" y="504.03" font-size="7.9" text-anchor="end" fill="#111" font-weight="normal" font-style="normal" >20</text>
<line x1="347.30" y1="485.76" x2="349.60" y2="485.76" stroke="#161616" stroke-width="1.25"/>
<text x="345.30" y="488.61" font-size="7.9" text-anchor="end" fill="#111" font-weight="normal" font-style="normal" >40</text>
<line x1="347.30" y1="470.34" x2="349.60" y2="470.34" stroke="#161616" stroke-width="1.25"/>
<text x="345.30" y="473.19" font-size="7.9" text-anchor="end" fill="#111" font-weight="normal" font-style="normal" >60</text>
<line x1="347.30" y1="454.92" x2="349.60" y2="454.92" stroke="#161616" stroke-width="1.25"/>
<text x="345.30" y="457.77" font-size="7.9" text-anchor="end" fill="#111" font-weight="normal" font-style="normal" >80</text>
<line x1="347.30" y1="439.50" x2="349.60" y2="439.50" stroke="#161616" stroke-width="1.25"/>
<text x="345.30" y="442.35" font-size="7.9" text-anchor="end" fill="#111" font-weight="normal" font-style="normal" >100</text>
<line x1="349.60" y1="405.80" x2="349.60" y2="426.10" stroke="#161616" stroke-width="1.25"/>
<line x1="347.30" y1="425.60" x2="349.60" y2="425.60" stroke="#161616" stroke-width="1.25"/>
<text x="345.30" y="428.45" font-size="7.9" text-anchor="end" fill="#111" font-weight="normal" font-style="normal" >400</text>
<line x1="347.30" y1="406.30" x2="349.60" y2="406.30" stroke="#161616" stroke-width="1.25"/>
<text x="345.30" y="409.15" font-size="7.9" text-anchor="end" fill="#111" font-weight="normal" font-style="normal" >500</text>
<line x1="349.60" y1="516.60" x2="467.50" y2="516.60" stroke="#222" stroke-width="1.25"/>
<text transform="translate(324.50,460.20) rotate(-90)" x="0" y="3.17" font-size="8.8" text-anchor="middle" fill="#111">IL6 mRNA (fold)</text>
<text transform="translate(60.20,521.00) rotate(-45)" x="0" y="3.0" font-size="7.8" text-anchor="end" fill="#111">10 ng/ml</text>
<text transform="translate(72.10,521.00) rotate(-45)" x="0" y="3.0" font-size="7.8" text-anchor="end" fill="#111">1 &#956;g/ml</text>
<text transform="translate(82.20,521.00) rotate(-45)" x="0" y="3.0" font-size="7.8" text-anchor="end" fill="#111">10 &#956;g/ml</text>
<text transform="translate(95.00,521.00) rotate(-45)" x="0" y="3.0" font-size="7.8" text-anchor="end" fill="#111">1 &#956;g/ml</text>
<text transform="translate(104.90,521.00) rotate(-45)" x="0" y="3.0" font-size="7.8" text-anchor="end" fill="#111">10 &#956;g/ml</text>
<text transform="translate(118.70,521.00) rotate(-45)" x="0" y="3.0" font-size="7.8" text-anchor="end" fill="#111">1 &#956;g/ml</text>
<text transform="translate(128.50,521.00) rotate(-45)" x="0" y="3.0" font-size="7.8" text-anchor="end" fill="#111">10 &#956;g/ml</text>
<text transform="translate(141.00,521.00) rotate(-45)" x="0" y="3.0" font-size="7.8" text-anchor="end" fill="#111">1 &#956;g/ml</text>
<text transform="translate(151.00,521.00) rotate(-45)" x="0" y="3.0" font-size="7.8" text-anchor="end" fill="#111">10 &#956;g/ml</text>
<text transform="translate(209.40,521.00) rotate(-45)" x="0" y="3.0" font-size="7.8" text-anchor="end" fill="#111">10 ng/ml</text>
<text transform="translate(222.40,521.00) rotate(-45)" x="0" y="3.0" font-size="7.8" text-anchor="end" fill="#111">1 &#956;g/ml</text>
<text transform="translate(232.40,521.00) rotate(-45)" x="0" y="3.0" font-size="7.8" text-anchor="end" fill="#111">10 &#956;g/ml</text>
<text transform="translate(245.90,521.00) rotate(-45)" x="0" y="3.0" font-size="7.8" text-anchor="end" fill="#111">1 &#956;g/ml</text>
<text transform="translate(256.30,521.00) rotate(-45)" x="0" y="3.0" font-size="7.8" text-anchor="end" fill="#111">10 &#956;g/ml</text>
<text transform="translate(270.40,521.00) rotate(-45)" x="0" y="3.0" font-size="7.8" text-anchor="end" fill="#111">1 &#956;g/ml</text>
<text transform="translate(280.30,521.00) rotate(-45)" x="0" y="3.0" font-size="7.8" text-anchor="end" fill="#111">10 &#956;g/ml</text>
<text transform="translate(292.70,521.00) rotate(-45)" x="0" y="3.0" font-size="7.8" text-anchor="end" fill="#111">1 &#956;g/ml</text>
<text transform="translate(302.60,521.00) rotate(-45)" x="0" y="3.0" font-size="7.8" text-anchor="end" fill="#111">10 &#956;g/ml</text>
<text transform="translate(363.90,521.00) rotate(-45)" x="0" y="3.0" font-size="7.8" text-anchor="end" fill="#111">10 ng/ml</text>
<text transform="translate(377.30,521.00) rotate(-45)" x="0" y="3.0" font-size="7.8" text-anchor="end" fill="#111">1 &#956;g/ml</text>
<text transform="translate(387.90,521.00) rotate(-45)" x="0" y="3.0" font-size="7.8" text-anchor="end" fill="#111">10 &#956;g/ml</text>
<text transform="translate(402.70,521.00) rotate(-45)" x="0" y="3.0" font-size="7.8" text-anchor="end" fill="#111">1 &#956;g/ml</text>
<text transform="translate(412.80,521.00) rotate(-45)" x="0" y="3.0" font-size="7.8" text-anchor="end" fill="#111">10 &#956;g/ml</text>
<text transform="translate(426.90,521.00) rotate(-45)" x="0" y="3.0" font-size="7.8" text-anchor="end" fill="#111">1 &#956;g/ml</text>
<text transform="translate(437.00,521.00) rotate(-45)" x="0" y="3.0" font-size="7.8" text-anchor="end" fill="#111">10 &#956;g/ml</text>
<text transform="translate(451.20,521.00) rotate(-45)" x="0" y="3.0" font-size="7.8" text-anchor="end" fill="#111">1 &#956;g/ml</text>
<text transform="translate(461.80,521.00) rotate(-45)" x="0" y="3.0" font-size="7.8" text-anchor="end" fill="#111">10 &#956;g/ml</text>
<rect x="409.20" y="402.80" width="15.20" height="7.40" fill="#62a8e4"/>
<text x="428.30" y="409.30" font-size="7.6" text-anchor="start" fill="#111" font-weight="normal" font-style="normal" >LPS</text>
<rect x="409.20" y="414.18" width="15.20" height="7.40" fill="#050505"/>
<text x="428.30" y="420.68" font-size="7.6" text-anchor="start" fill="#111" font-weight="normal" font-style="normal" >disulfide HMGB1</text>
<rect x="409.20" y="425.56" width="15.20" height="7.40" fill="#808080"/>
<text x="428.30" y="432.06" font-size="7.6" text-anchor="start" fill="#111" font-weight="normal" font-style="normal" >all-thiol HMGB1</text>
<rect x="409.20" y="436.94" width="15.20" height="7.40" fill="#c2c2c2"/>
<text x="428.30" y="443.44" font-size="7.6" text-anchor="start" fill="#111" font-weight="normal" font-style="normal" >3S-HMGB1</text>
<rect x="409.20" y="448.32" width="15.20" height="7.40" fill="#a8042e"/>
<text x="428.30" y="454.82" font-size="7.6" text-anchor="start" fill="#111" font-weight="normal" font-style="normal" >sulfonyl HMGB1</text>
<text x="15.60" y="577.40" font-size="11.3" text-anchor="start" fill="#000" font-weight="bold" font-style="normal" >H</text>
<rect x="51.30" y="560.80" width="14.50" height="5.30" fill="#808080"/>
<text x="69.50" y="566.30" font-size="7.9" text-anchor="start" fill="#111" font-weight="normal" font-style="normal" >ctrl</text>
<rect x="51.30" y="571.00" width="14.50" height="5.30" fill="#c2c2c2"/>
<text x="69.50" y="576.50" font-size="7.9" text-anchor="start" fill="#111" font-weight="normal" font-style="normal" >3S-HMGB1</text>
<rect x="117.10" y="560.80" width="14.50" height="5.30" fill="#050505"/>
<text x="135.30" y="566.30" font-size="7.9" text-anchor="start" fill="#111" font-weight="normal" font-style="normal" >disulfide HMGB1</text>
<rect x="117.10" y="571.00" width="14.50" height="5.30" fill="#a8042e"/>
<text x="135.30" y="576.50" font-size="7.9" text-anchor="start" fill="#111" font-weight="normal" font-style="normal" >sulfonyl HMGB1</text>
<line x1="67.65" y1="697.01" x2="67.65" y2="693.85" stroke="#161616" stroke-width="1"/>
<line x1="65.65" y1="693.85" x2="69.65" y2="693.85" stroke="#161616" stroke-width="1.1"/>
<rect x="58.80" y="697.01" width="17.70" height="10.29" fill="#808080"/>
<line x1="85.35" y1="678.91" x2="85.35" y2="677.25" stroke="#161616" stroke-width="1"/>
<line x1="83.35" y1="677.25" x2="87.35" y2="677.25" stroke="#161616" stroke-width="1.1"/>
<rect x="76.50" y="678.91" width="17.70" height="28.39" fill="#c2c2c2"/>
<line x1="103.05" y1="625.79" x2="103.05" y2="616.83" stroke="#161616" stroke-width="1"/>
<line x1="101.05" y1="616.83" x2="105.05" y2="616.83" stroke="#161616" stroke-width="1.1"/>
<rect x="94.20" y="625.79" width="17.70" height="81.51" fill="#050505"/>
<line x1="120.75" y1="695.18" x2="120.75" y2="691.36" stroke="#161616" stroke-width="1"/>
<line x1="118.75" y1="691.36" x2="122.75" y2="691.36" stroke="#161616" stroke-width="1.1"/>
<rect x="111.90" y="695.18" width="17.70" height="12.12" fill="#a8042e"/>
<line x1="46.40" y1="590.60" x2="46.40" y2="707.80" stroke="#161616" stroke-width="1.25"/>
<line x1="44.10" y1="707.30" x2="46.40" y2="707.30" stroke="#161616" stroke-width="1.25"/>
<text x="41.20" y="710.18" font-size="8.0" text-anchor="end" fill="#111" font-weight="normal" font-style="normal" >0</text>
<line x1="44.10" y1="690.70" x2="46.40" y2="690.70" stroke="#161616" stroke-width="1.25"/>
<text x="41.20" y="693.58" font-size="8.0" text-anchor="end" fill="#111" font-weight="normal" font-style="normal" >0.1</text>
<line x1="44.10" y1="674.10" x2="46.40" y2="674.10" stroke="#161616" stroke-width="1.25"/>
<text x="41.20" y="676.98" font-size="8.0" text-anchor="end" fill="#111" font-weight="normal" font-style="normal" >0.2</text>
<line x1="44.10" y1="657.50" x2="46.40" y2="657.50" stroke="#161616" stroke-width="1.25"/>
<text x="41.20" y="660.38" font-size="8.0" text-anchor="end" fill="#111" font-weight="normal" font-style="normal" >0.3</text>
<line x1="44.10" y1="640.90" x2="46.40" y2="640.90" stroke="#161616" stroke-width="1.25"/>
<text x="41.20" y="643.78" font-size="8.0" text-anchor="end" fill="#111" font-weight="normal" font-style="normal" >0.4</text>
<line x1="44.10" y1="624.30" x2="46.40" y2="624.30" stroke="#161616" stroke-width="1.25"/>
<text x="41.20" y="627.18" font-size="8.0" text-anchor="end" fill="#111" font-weight="normal" font-style="normal" >0.5</text>
<line x1="44.10" y1="607.70" x2="46.40" y2="607.70" stroke="#161616" stroke-width="1.25"/>
<text x="41.20" y="610.58" font-size="8.0" text-anchor="end" fill="#111" font-weight="normal" font-style="normal" >0.6</text>
<line x1="44.10" y1="591.10" x2="46.40" y2="591.10" stroke="#161616" stroke-width="1.25"/>
<text x="41.20" y="593.98" font-size="8.0" text-anchor="end" fill="#111" font-weight="normal" font-style="normal" >0.7</text>
<line x1="46.40" y1="707.30" x2="131.00" y2="707.30" stroke="#222" stroke-width="1.25"/>
<text transform="translate(21.60,647.40) rotate(-90)" x="0" y="3.10" font-size="8.6" text-anchor="middle" fill="#111">NETs (%)</text>
<line x1="67.30" y1="592.10" x2="120.60" y2="592.10" stroke="#161616" stroke-width="1.25"/>
<text x="94.50" y="589.40" font-size="7.7" text-anchor="middle" fill="#111" font-weight="normal" font-style="normal" >p=0.83</text>
<line x1="67.30" y1="603.50" x2="98.50" y2="603.50" stroke="#161616" stroke-width="1.25"/>
<text x="85.80" y="601.00" font-size="7.7" text-anchor="middle" fill="#111" font-weight="normal" font-style="normal" >p&lt;0.001</text>
<line x1="85.00" y1="614.90" x2="103.00" y2="614.90" stroke="#161616" stroke-width="1.25"/>
<text x="94.40" y="612.50" font-size="7.7" text-anchor="middle" fill="#111" font-weight="normal" font-style="normal" >p&lt;0.05</text>
<line x1="68.10" y1="672.30" x2="85.50" y2="672.30" stroke="#161616" stroke-width="1.25"/>
<text x="77.30" y="669.20" font-size="7.7" text-anchor="middle" fill="#111" font-weight="normal" font-style="normal" >p=0.069</text>
<text transform="translate(151.6,647.5) rotate(-90)" x="0" y="3.0" font-size="8.6" text-anchor="middle"><tspan fill="#7fa2cc" stroke="#7fa2cc" stroke-width="0.3">Hoechst/</tspan><tspan fill="#c02a40" stroke="#c02a40" stroke-width="0.3">MPO</tspan></text>
<rect x="160.00" y="614.90" width="75.20" height="64.70" fill="#120818"/>
<rect x="239.00" y="614.90" width="71.00" height="64.70" fill="#040104"/>
<rect x="313.90" y="614.90" width="110.20" height="64.70" fill="#0e0816"/>
<rect x="427.00" y="614.90" width="77.50" height="64.70" fill="#030103"/>
<path d="M340 623.5 Q351 627 361 632.5" stroke="#b03890" stroke-width="1.5" fill="none" opacity="0.75" filter="url(#blur)"/>
<ellipse cx="324.8" cy="666.3" rx="6.2" ry="2.4" fill="#a83080" opacity="0.8" filter="url(#blur)"/>
<path d="M392.7 658 Q400 650 407.8 651.6 Q414 652 418.5 657" stroke="#6a2060" stroke-width="1.1" fill="none" opacity="0.8" filter="url(#blur)"/>
<path d="M333 644.2 L341 644.6" stroke="#b060b0" stroke-width="2" fill="none" opacity="0.6" filter="url(#blur)"/>
<circle cx="164.7" cy="626.0" r="3.0" fill="url(#gDB)" opacity="1.0" filter="url(#blur2)"/>
<circle cx="186.0" cy="621.6" r="3.2" fill="url(#gD)" opacity="1.0" filter="url(#blur2)"/>
<circle cx="211.9" cy="624.5" r="3.2" fill="url(#gD)" opacity="1.0" filter="url(#blur2)"/>
<circle cx="226.5" cy="648.9" r="3.2" fill="url(#gD)" opacity="1.0" filter="url(#blur2)"/>
<circle cx="182.7" cy="666.9" r="3.0" fill="url(#gD)" opacity="1.0" filter="url(#blur2)"/>
<circle cx="250.6" cy="634.7" r="3.2" fill="url(#gK)" opacity="1.0" filter="url(#blur2)"/>
<circle cx="268.5" cy="626.0" r="2.6" fill="url(#gK)" opacity="1.0" filter="url(#blur2)"/>
<circle cx="271.8" cy="632.0" r="2.8" fill="url(#gK)" opacity="1.0" filter="url(#blur2)"/>
<circle cx="295.6" cy="645.9" r="3.2" fill="url(#gK)" opacity="1.0" filter="url(#blur2)"/>
<circle cx="249.0" cy="671.2" r="3.0" fill="url(#gK)" opacity="1.0" filter="url(#blur2)"/>
<circle cx="361.5" cy="632.7" r="3.2" fill="url(#gB)" opacity="1.0" filter="url(#blur2)"/>
<circle cx="332.4" cy="644.1" r="3.4" fill="url(#gL)" opacity="1.0" filter="url(#blur2)"/>
<circle cx="340.6" cy="662.8" r="2.8" fill="url(#gL)" opacity="1.0" filter="url(#blur2)"/>
<circle cx="400.2" cy="667.8" r="2.8" fill="url(#gP)" opacity="1.0" filter="url(#blur2)"/>
<circle cx="412.0" cy="653.3" r="2.6" fill="url(#gP)" opacity="1.0" filter="url(#blur2)"/>
<circle cx="433.7" cy="625.0" r="3.2" fill="url(#gP)" opacity="1.0" filter="url(#blur2)"/>
<circle cx="476.0" cy="651.9" r="3.4" fill="url(#gL)" opacity="1.0" filter="url(#blur2)"/>
<circle cx="479.1" cy="655.3" r="3.4" fill="url(#gL)" opacity="1.0" filter="url(#blur2)"/>
<circle cx="492.9" cy="658.8" r="3.4" fill="url(#gL)" opacity="1.0" filter="url(#blur2)"/>
<circle cx="471.4" cy="669.2" r="3.6" fill="url(#gL)" opacity="1.0" filter="url(#blur2)"/>
<text x="162.20" y="623.30" font-size="8.5" text-anchor="start" fill="#f4f4f4" font-weight="normal" font-style="normal" >ctrl</text>
<line x1="211.20" y1="674.80" x2="233.10" y2="674.80" stroke="#cfcfcf" stroke-width="1.5"/>
<text x="241.20" y="623.30" font-size="8.5" text-anchor="start" fill="#f4f4f4" font-weight="normal" font-style="normal" >3S-HMGB1</text>
<line x1="285.00" y1="674.80" x2="307.10" y2="674.80" stroke="#cfcfcf" stroke-width="1.5"/>
<text x="316.10" y="623.30" font-size="8.5" text-anchor="start" fill="#f4f4f4" font-weight="normal" font-style="normal" >disulfide HMGB1</text>
<line x1="394.80" y1="674.80" x2="420.30" y2="674.80" stroke="#cfcfcf" stroke-width="1.5"/>
<text x="429.20" y="623.30" font-size="8.5" text-anchor="start" fill="#f4f4f4" font-weight="normal" font-style="normal" >sulfonyl HMGB1</text>
<line x1="481.10" y1="674.80" x2="499.50" y2="674.80" stroke="#cfcfcf" stroke-width="1.5"/>
<line x1="517.5" y1="0" x2="517.5" y2="718" stroke="#e6e6e6" stroke-width="1"/>
<rect x="0.5" y="0.5" width="519" height="717" fill="none" stroke="#1a1a1a" stroke-width="1"/>
</svg>
</body></html>
